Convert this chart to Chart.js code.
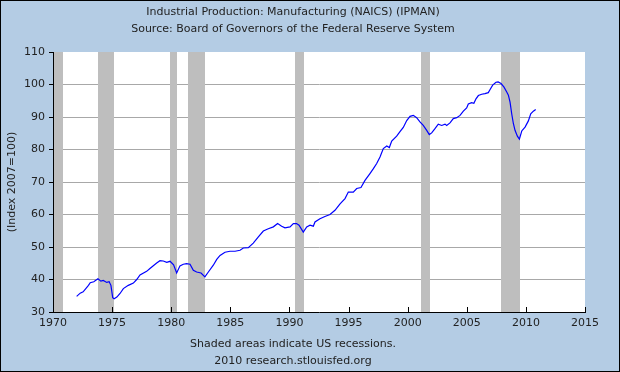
<!DOCTYPE html>
<html>
<head>
<meta charset="utf-8">
<script src="https://cdn.jsdelivr.net/npm/chart.js@4.4.1/dist/chart.umd.min.js"></script>
<style>
  html, body { margin: 0; padding: 0; background: #fff; }
  #frame { width: 618px; height: 370px; border: 1px solid #000; background: #b4cce4; }
  canvas { display: block; }
</style>
</head>
<body>
<div id="frame"><canvas id="ipman-chart" width="618" height="370"></canvas></div>
<script>
// dates as decimal years
const years = [
  1972.0, 1972.3, 1972.55, 1973.0, 1973.15, 1973.45, 1973.8, 1974.05, 1974.25, 1974.55,
  1974.75, 1974.9, 1975.05, 1975.17, 1975.4, 1975.67, 1975.95, 1976.37, 1976.8, 1977.08,
  1977.36, 1977.92, 1978.2, 1978.77, 1979.05, 1979.33, 1979.62, 1979.9, 1980.2, 1980.46,
  1980.74, 1981.02, 1981.3, 1981.59, 1981.87, 1982.15, 1982.52, 1982.85, 1983.14, 1983.56,
  1983.85, 1984.13, 1984.55, 1984.97, 1985.4, 1985.82, 1986.1, 1986.52, 1986.94, 1987.37,
  1987.79, 1988.21, 1988.64, 1989.0, 1989.34, 1989.62, 1990.05, 1990.33, 1990.6, 1990.81,
  1991.17, 1991.46, 1991.74, 1992.02, 1992.16, 1992.58, 1993.0, 1993.43, 1993.85, 1994.28,
  1994.7, 1994.98, 1995.4, 1995.69, 1996.05, 1996.39, 1996.81, 1997.1, 1997.38, 1997.66,
  1997.94, 1998.23, 1998.45, 1998.65, 1999.07, 1999.35, 1999.63, 1999.92, 2000.2, 2000.48,
  2000.76, 2001.04, 2001.32, 2001.61, 2001.83, 2002.03, 2002.31, 2002.59, 2002.88, 2003.16,
  2003.3, 2003.58, 2003.86, 2004.15, 2004.43, 2004.71, 2004.99, 2005.13, 2005.41, 2005.6,
  2005.78, 2005.98, 2006.26, 2006.54, 2006.82, 2006.96, 2007.19, 2007.47, 2007.65, 2007.9,
  2008.15, 2008.38, 2008.52, 2008.66, 2008.8, 2008.94, 2009.08, 2009.28, 2009.45, 2009.65,
  2009.93, 2010.21, 2010.41, 2010.63, 2010.83
];
const values = [
  34.8, 35.8, 36.2, 38.2, 39.0, 39.3, 40.2, 39.5, 39.7, 39.1,
  39.3, 38.2, 34.4, 34.1, 34.6, 35.7, 37.2, 38.2, 38.9, 40.0,
  41.4, 42.5, 43.4, 45.1, 45.8, 45.7, 45.3, 45.6, 44.5, 42.0,
  44.2, 44.7, 44.9, 44.7, 42.8, 42.3, 42.0, 40.8, 42.3, 44.4,
  46.2, 47.4, 48.4, 48.7, 48.7, 49.0, 49.7, 49.8, 51.2, 53.1,
  54.9, 55.6, 56.2, 57.2, 56.4, 55.9, 56.2, 57.2, 57.2, 56.7,
  54.6, 56.2, 56.7, 56.4, 57.7, 58.7, 59.4, 60.0, 61.3, 63.3,
  64.9, 66.9, 66.9, 68.0, 68.3, 70.5, 72.6, 74.1, 75.7, 77.7,
  80.3, 81.1, 80.6, 82.6, 84.1, 85.5, 86.8, 88.9, 90.2, 90.5,
  89.8, 88.5, 87.4, 85.9, 84.6, 85.1, 86.4, 87.8, 87.4, 87.8,
  87.4, 88.2, 89.5, 89.8, 90.5, 91.8, 92.8, 94.0, 94.4, 94.2,
  95.6, 96.6, 97.0, 97.2, 97.5, 98.4, 99.8, 100.7, 100.8, 100.3,
  99.2, 97.7, 96.7, 94.6, 91.0, 88.0, 85.9, 84.1, 83.2, 85.7,
  86.9, 88.8, 91.0, 91.8, 92.3
];

// US recessions (shaded)
const recessionStarts = [1969.92, 1973.83, 1979.92, 1981.45, 1990.5, 2001.12, 2007.92];
const recessionEnds = [1970.85, 1975.15, 1980.5, 1982.83, 1991.2, 2001.85, 2009.5];

const xTicks = [1970, 1975, 1980, 1985, 1990, 1995, 2000, 2005, 2010, 2015];
const yTicks = [30, 40, 50, 60, 70, 80, 90, 100, 110];

const textFont = { family: "DejaVu Sans", size: 11, weight: "normal" };

const recessionShading = {
  id: "recessionShading",
  beforeDraw(chart) {
    // white plot area on the blue page
    const { ctx, chartArea } = chart;
    ctx.save();
    ctx.fillStyle = "#fff";
    ctx.fillRect(chartArea.left, chartArea.top, chartArea.right - chartArea.left, chartArea.bottom - chartArea.top);
    ctx.restore();
  },
  beforeDatasetsDraw(chart) {
    const { ctx, chartArea, scales } = chart;
    ctx.save();
    ctx.fillStyle = "#bebebe";
    recessionStarts.forEach((start, i) => {
      const left = Math.max(Math.round(scales.x.getPixelForValue(start)), chartArea.left + 1);
      const right = Math.min(Math.round(scales.x.getPixelForValue(recessionEnds[i])), chartArea.right);
      if (right > left) {
        ctx.fillRect(left, chartArea.top, right - left, chartArea.bottom - chartArea.top);
      }
    });
    ctx.restore();
  },
  afterDatasetsDraw(chart) {
    // small tick marks pointing into the plot on the x axis
    const { ctx, chartArea, scales } = chart;
    ctx.save();
    ctx.strokeStyle = "#000";
    ctx.lineWidth = 1;
    ctx.beginPath();
    scales.x.ticks.forEach((t) => {
      const x = Math.round(scales.x.getPixelForValue(t.value)) + 0.5;
      ctx.moveTo(x, chartArea.bottom);
      ctx.lineTo(x, chartArea.bottom - 5);
    });
    ctx.stroke();
    ctx.restore();
  },
};

const ctx = document.getElementById("ipman-chart").getContext("2d");
new Chart(ctx, {
  type: "line",
  data: {
    datasets: [
      {
        label: "IPMAN",
        data: years.map((y, i) => ({ x: y, y: values[i] })),
        borderColor: "#0000ff",
        borderWidth: 1.2,
        pointRadius: 0,
        tension: 0,
      },
    ],
  },
  plugins: [recessionShading],
  options: {
    responsive: false,
    animation: false,
    layout: { padding: { left: 0, right: 34, top: 0, bottom: 0 } },
    plugins: {
      legend: { display: false },
      tooltip: { enabled: false },
      title: {
        display: true,
        text: [
          "Industrial Production: Manufacturing (NAICS) (IPMAN)",
          "Source: Board of Governors of the Federal Reserve System",
        ],
        color: "#222",
        font: { ...textFont, lineHeight: 17 / 11 },
        padding: { top: 2.5, bottom: 14.5 },
      },
      subtitle: {
        display: true,
        position: "bottom",
        text: ["Shaded areas indicate US recessions.", "2010 research.stlouisfed.org"],
        color: "#222",
        font: { ...textFont, lineHeight: 17 / 11 },
        padding: { top: 0.5, bottom: 1.5 },
      },
    },
    scales: {
      x: {
        type: "linear",
        min: 1970,
        max: 2015,
        afterBuildTicks: (scale) => {
          scale.ticks = xTicks.map((v) => ({ value: v }));
        },
        afterFit: (scale) => {
          scale.height = 23;
        },
        ticks: {
          color: "#222",
          font: textFont,
          padding: 5,
          maxRotation: 0,
          autoSkip: false,
          callback: (v) => String(v),
        },
        grid: { drawOnChartArea: false, drawTicks: false },
        border: { display: true, color: "#000", width: 1 },
      },
      y: {
        min: 30,
        max: 110,
        afterBuildTicks: (scale) => {
          scale.ticks = yTicks.map((v) => ({ value: v }));
        },
        afterFit: (scale) => {
          scale.width = 52;
        },
        ticks: {
          color: "#222",
          font: textFont,
          padding: 4,
          callback: (v) => String(v),
        },
        grid: {
          color: (c) => (c.tick && (c.tick.value === 30 || c.tick.value === 110) ? "rgba(0,0,0,0)" : "#a8a8a8"),
          tickColor: "#000",
          tickLength: 4,
          lineWidth: 1,
        },
        border: { display: true, color: "#000", width: 1 },
        title: {
          display: true,
          text: "(Index 2007=100)",
          color: "#222",
          font: textFont,
          padding: { top: 4.4, bottom: 0 },
        },
      },
    },
  },
});
</script>
</body>
</html>
